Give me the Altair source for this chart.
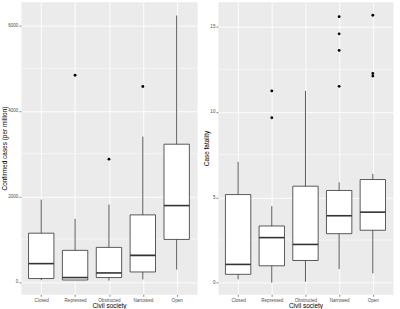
import altair as alt
import pandas as pd

categories = ["Closed", "Repressed", "Obstructed", "Narrowed", "Open"]

# Confirmed cases (per million)
cases_min = [40, 40, 30, 56, 288]
cases_q1 = [79, 45, 102, 233, 994]
cases_median = [428, 102, 210, 622, 1786]
cases_q3 = [1140, 738, 808, 1568, 3222]
cases_max = [1925, 1475, 1809, 3400, 6232]
cases_out_cat = ["Repressed", "Obstructed", "Narrowed"]
cases_out_val = [4835, 2872, 4572]

# Case fatality
fatal_min = [0.2, 0.0, 0.06, 0.8, 0.55]
fatal_q1 = [0.49, 0.99, 1.30, 2.87, 3.07]
fatal_median = [1.07, 2.64, 2.24, 3.92, 4.13]
fatal_q3 = [5.16, 3.32, 5.65, 5.40, 6.04]
fatal_max = [7.08, 4.48, 11.23, 5.88, 6.37]
fatal_out_cat = ["Repressed", "Repressed", "Narrowed", "Narrowed", "Narrowed",
                 "Narrowed", "Open", "Open", "Open"]
fatal_out_val = [11.23, 9.66, 15.58, 14.57, 13.6, 11.5, 15.66, 12.25, 12.1]

cases_major = [0, 2000, 4000, 6000]
cases_minor = [1000, 3000, 5000]
fatal_major = [0, 5, 10, 15]
fatal_minor = [2.5, 7.5, 12.5]

FONT = "Liberation Sans"
BOXW = 25.5


def panel(mins, q1s, meds, q3s, maxs, out_cat, out_val, major, minor,
          domain, ytitle, width, height):
    summ = pd.DataFrame(dict(cat=categories, lo=mins, q1=q1s, med=meds,
                             q3=q3s, hi=maxs))
    outs = pd.DataFrame(dict(cat=out_cat, val=out_val))
    mdf = pd.DataFrame(dict(v=minor))

    yscale = alt.Scale(domain=domain, nice=False, zero=False)
    yaxis = alt.Axis(title=ytitle, values=major, format="d")
    x = alt.X("cat:N", sort=categories,
              scale=alt.Scale(type="point", padding=0.6),
              axis=alt.Axis(title="Civil society", grid=True, labelAngle=0))

    def Y(field):
        return alt.Y(field, scale=yscale, axis=yaxis)

    minor_grid = alt.Chart(mdf).mark_rule(color="white", strokeWidth=0.5).encode(
        y=Y("v:Q"))
    whisk = alt.Chart(summ).mark_rule(color="#333333", strokeWidth=0.8).encode(
        x=x, y=Y("lo:Q"), y2="hi:Q")
    box = alt.Chart(summ).mark_bar(width=BOXW, fill="white", stroke="#333333",
                                   strokeWidth=0.8).encode(
        x=x, y=Y("q1:Q"), y2="q3:Q")
    med = alt.Chart(summ).mark_tick(color="#333333", thickness=1.6, size=BOXW,
                                    opacity=1).encode(x=x, y=Y("med:Q"))
    pts = alt.Chart(outs).mark_circle(color="black", size=8, opacity=1).encode(
        x=x, y=Y("val:Q"))
    return alt.layer(minor_grid, whisk, box, med, pts).properties(
        width=width, height=height)


left = panel(cases_min, cases_q1, cases_median, cases_q3, cases_max,
             cases_out_cat, cases_out_val, cases_major, cases_minor,
             [-290, 6555], "Confirmed cases (per million)", 177, 294)
right = panel(fatal_min, fatal_q1, fatal_median, fatal_q3, fatal_max,
              fatal_out_cat, fatal_out_val, fatal_major, fatal_minor,
              [-0.68, 16.45], "Case fatality", 176, 294)

chart = alt.hconcat(left, right, spacing=21, bounds="flush").properties(
    padding={"left": 0, "top": 0, "right": 6, "bottom": 0},
    background="white",
).configure_view(
    fill="#EBEBEB", stroke="transparent"
).configure_axis(
    domain=False,
    grid=True,
    gridColor="white",
    gridWidth=0.9,
    tickColor="#333333",
    tickSize=2,
    tickWidth=0.6,
    labelFont=FONT,
    labelFontSize=4.6,
    labelColor="#4D4D4D",
    labelPadding=1,
    titleFont=FONT,
    titleFontSize=6.5,
    titleColor="black",
    titleFontWeight="normal",
    titlePadding=0.5,
)

chart.save("out.html", embed_options={"renderer": "svg", "actions": False})
